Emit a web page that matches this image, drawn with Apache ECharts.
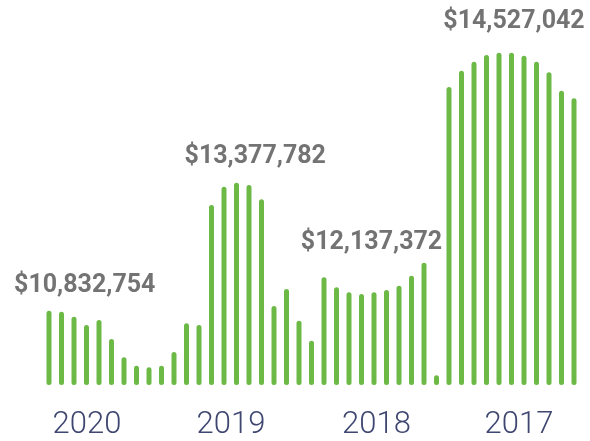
<!DOCTYPE html>
<html lang="en">
<head>
    <meta charset="UTF-8">
    <title>sales by year</title>
    <script src="https://cdn.jsdelivr.net/npm/echarts@6/dist/echarts.min.js"></script>
    <style type="text/css">
        html, body {
            margin: 0;
            padding: 0;
            background: #fff;
        }
        #main {
            width: 590px;
            height: 441px;
        }
    </style>
</head>
<body>
<div id="main"></div>
<script>
    // one bar per period, newest year on the left
    var periods = ['1', '2', '3', '4', '5', '6', '7', '8', '9', '10', '11',
        '12', '13', '14', '15', '16', '17', '18', '19', '20', '21', '22',
        '23', '24', '25', '26', '27', '28', '29', '30', '31', '32', '33',
        '34', '35', '36', '37', '38', '39', '40', '41', '42', '43'];
    var sales = [297, 293, 273, 240, 260, 184, 111, 77, 71, 77, 132, 247,
        240, 720, 793, 809, 800, 743, 316, 384, 257, 177,
        431, 391, 371, 364, 371, 380, 397, 437, 489, 39,
        1192, 1257, 1293, 1320, 1329, 1329, 1317, 1293, 1251, 1177, 1147];

    var years = ['2020', '2019', '2018', '2017'];
    var yearTotals = ['$10,832,754', '$13,377,782', '$12,137,372', '$14,527,042'];

    // where the year names and totals sit (bar index / value units)
    var yearPos = [3.04, 14.56, 26.2, 37.6];
    var totalPos = [[2.86, 398], [16.5, 912], [25.8, 568], [37.2, 1452]];

    var myChart = echarts.init(document.getElementById('main'));

    var option = {
        animation: false,
        grid: {
            left: 42.75,
            right: 9.75,
            top: 5,
            bottom: 56
        },
        xAxis: [{
            type: 'category',
            data: periods,
            axisLine: {show: false},
            axisTick: {show: false},
            axisLabel: {show: false}
        }, {
            type: 'value',
            min: -0.5,
            max: 42.5,
            position: 'bottom',
            splitLine: {show: false},
            axisLine: {show: false},
            axisTick: {show: false},
            axisLabel: {
                customValues: yearPos,
                margin: 25,
                fontFamily: 'Roboto',
                fontWeight: 300,
                fontSize: 31,
                color: '#3f4770',
                formatter: function (v) {
                    var i = yearPos.indexOf(v);
                    return i >= 0 ? years[i] : '';
                }
            }
        }],
        yAxis: {
            type: 'value',
            min: 0,
            max: 1520,
            show: false
        },
        series: [{
            type: 'bar',
            data: sales,
            barWidth: 5,
            itemStyle: {
                color: '#6cb946',
                borderRadius: 2.5
            }
        }, {
            type: 'scatter',
            xAxisIndex: 1,
            symbolSize: 0,
            clip: false,
            data: totalPos.map(function (p, i) {
                return {value: p, name: yearTotals[i]};
            }),
            label: {
                show: true,
                position: 'inside',
                formatter: '{b}',
                fontFamily: 'Roboto',
                fontWeight: 'bold',
                fontSize: 25,
                color: '#505050'
            }
        }]
    };
    myChart.setOption(option);
</script>
</body>
</html>
